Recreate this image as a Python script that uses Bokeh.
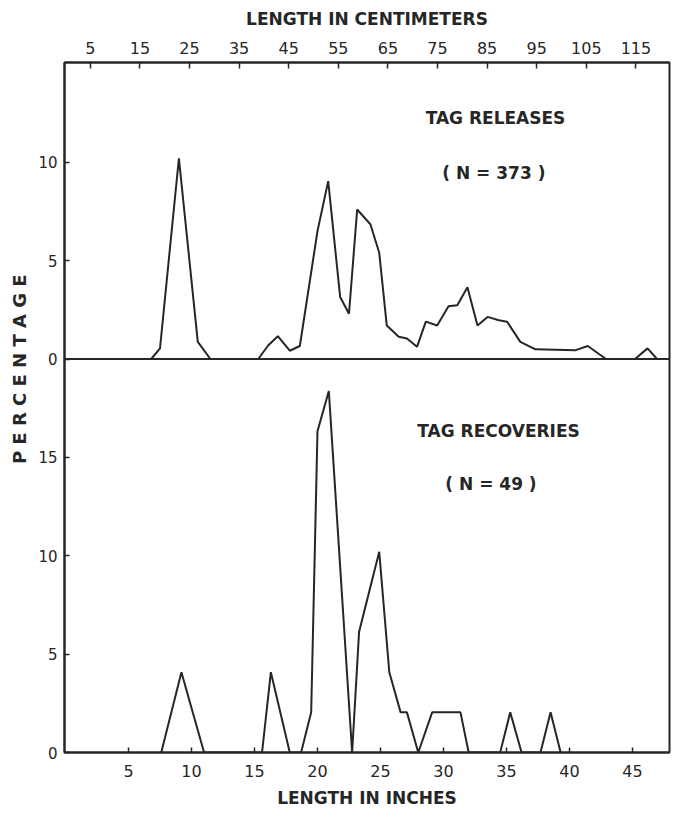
from bokeh.plotting import figure
from bokeh.models import Range1d, LinearAxis, FixedTicker, Span, Label, Title
from bokeh.embed import file_html
from bokeh.resources import INLINE

# ---- data (length in inches, percentage) ----
rel_in = [6.8, 7.5, 9.0, 10.5, 11.5, 15.3, 16.1, 16.85, 17.8, 18.6, 20.0, 20.85,
          21.8, 22.5, 23.15, 24.2, 24.9, 25.5, 26.45, 27.1, 27.9, 28.6, 29.5, 30.4,
          31.1, 31.9, 32.7, 33.5, 34.4, 35.05, 36.1, 37.3, 40.5, 41.45, 42.9, 45.2,
          46.2, 46.95]
rel_pct = [0, 0.54, 10.2, 0.87, 0, 0, 0.7, 1.16, 0.42, 0.66, 6.5, 9.04,
           3.15, 2.3, 7.6, 6.85, 5.4, 1.7, 1.13, 1.04, 0.62, 1.9, 1.7, 2.68,
           2.73, 3.65, 1.7, 2.14, 1.97, 1.89, 0.87, 0.49, 0.45, 0.66, 0, 0,
           0.54, 0]

rec_in = [7.6, 9.2, 11.0, 15.6, 16.3, 17.8, 18.7, 19.5, 20.0, 20.9, 22.75, 23.3,
          24.9, 25.7, 26.6, 27.1, 28.0, 29.1, 31.35, 32.0, 34.5, 35.3, 36.2, 37.7,
          38.5, 39.3]
rec_pct = [0, 4.08, 0, 0, 4.08, 0, 0, 2.04, 16.33, 18.37, 0, 6.12,
           10.2, 4.08, 2.04, 2.04, 0, 2.04, 2.04, 0, 0, 2.04, 0, 0,
           2.04, 0]

inch_ticks = [5, 10, 15, 20, 25, 30, 35, 40, 45]
cm_ticks = [5, 15, 25, 35, 45, 55, 65, 75, 85, 95, 105, 115]
rec_yticks = [0, 5, 10, 15]
rel_yticks = [0, 5, 10]

# ---- layout constants ----
X0, X1 = -0.08, 47.94
BOTTOM_TOP = 20.0     # top of recoveries panel
TOP_TOP = 15.07       # top of releases panel
INK = "#262626"
FONT = "DejaVu Sans"

p = figure(width=672, height=810,
           x_range=Range1d(X0, X1), y_range=Range1d(0, BOTTOM_TOP + TOP_TOP),
           output_backend="svg", toolbar_location=None,
           min_border_left=64, min_border_right=3, min_border_top=62, min_border_bottom=58)
p.extra_y_ranges = {"rel": Range1d(-BOTTOM_TOP, TOP_TOP)}
p.extra_x_ranges = {"cm": Range1d(X0 * 2.54, X1 * 2.54)}

p.grid.visible = False
p.background_fill_color = "white"
p.border_fill_color = "white"
p.outline_line_color = INK
p.outline_line_width = 2


def style_axis(ax, tick_size, standoff, tick_in):
    ax.major_label_text_font = FONT
    ax.major_label_text_font_size = tick_size
    ax.major_label_text_color = INK
    ax.major_label_standoff = standoff
    ax.major_tick_in = tick_in
    ax.major_tick_out = 0
    ax.minor_tick_line_color = None
    ax.axis_line_color = INK
    ax.axis_line_width = 2
    ax.major_tick_line_color = INK
    ax.major_tick_line_width = 1.5
    ax.axis_label_text_font = FONT
    ax.axis_label_text_font_style = "bold"
    ax.axis_label_text_font_size = "17px"
    ax.axis_label_text_color = INK


# bottom axis (inches)
xa = p.xaxis[0]
xa.ticker = FixedTicker(ticks=inch_ticks)
xa.axis_label = "LENGTH IN INCHES"
style_axis(xa, "16px", 12, 5)
xa.axis_label_standoff = 8

# top axis (centimeters)
ta = LinearAxis(x_range_name="cm", ticker=FixedTicker(ticks=cm_ticks),
                axis_label="LENGTH IN CENTIMETERS")
style_axis(ta, "16px", 9, 6)
ta.axis_label_standoff = 10
p.add_layout(ta, "above")

# left axis: both panels share the frame
ya = p.yaxis[0]
ya.ticker = FixedTicker(ticks=rec_yticks + [BOTTOM_TOP + t for t in rel_yticks])
overrides = {t: str(t) for t in rec_yticks}
for t in rel_yticks:
    overrides[BOTTOM_TOP + t] = str(t)
ya.major_label_overrides = overrides
style_axis(ya, "15px", 7, 5)

# shared vertical axis title, placed like the original (a bit above centre)
p.add_layout(Title(text="P E R C E N T A G E", align="right", offset=212,
                   vertical_align="middle", standoff=10,
                   text_font=FONT, text_font_style="bold", text_font_size="18px",
                   text_color=INK), "left")

# zero line of the releases panel (panel separator)
p.add_layout(Span(location=0, dimension="width", y_range_name="rel",
                  line_color=INK, line_width=2))

# series
p.line(rel_in, rel_pct, y_range_name="rel", line_color=INK, line_width=2)
p.line(rec_in, rec_pct, line_color=INK, line_width=2)


def ann(x, y, text, rng="default"):
    p.add_layout(Label(x=x, y=y, text=text, y_range_name=rng,
                       text_align="center", text_baseline="middle",
                       text_font=FONT, text_font_style="bold",
                       text_font_size="17px", text_color=INK))


ann(34.13, 12.24, "TAG RELEASES", "rel")
ann(34.0, 9.44, "( N = 373 )", "rel")
ann(34.37, 16.35, "TAG RECOVERIES")
ann(33.77, 13.63, "( N = 49 )")

open("out.html", "w").write(file_html(p, INLINE))
